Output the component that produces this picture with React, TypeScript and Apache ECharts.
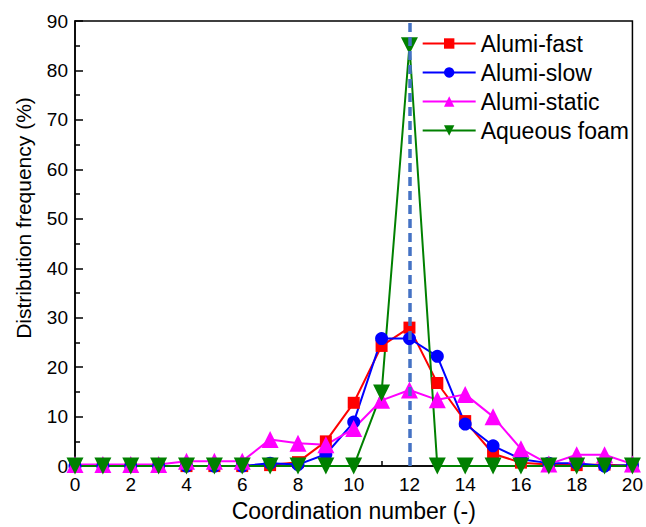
import React, { useEffect, useRef } from "react";
import * as echarts from "echarts";

const categories = [0, 1, 2, 3, 4, 5, 6, 7, 8, 9, 10, 11, 12, 13, 14, 15, 16, 17, 18, 19, 20];
const alumiFast = [0, 0, 0, 0, 0, 0, 0, 0.2, 0.8, 5.0, 12.8, 24.3, 28.0, 16.8, 9.1, 2.5, 0.7, 0.3, 0.2, 0.3, 0];
const alumiSlow = [0, 0, 0, 0, 0, 0, 0, 0.6, 0.3, 2.4, 8.9, 25.8, 25.8, 22.2, 8.5, 4.1, 1.4, 0.6, 0.6, 0, 0.2];
const alumiStatic = [0.3, 0.3, 0.3, 0.3, 1.0, 1.0, 1.0, 5.4, 4.6, 4.3, 7.6, 13.3, 15.4, 13.4, 14.5, 10.0, 3.5, 0.4, 2.3, 2.3, 0.4];
const aqueousFoam = [0, 0, 0, 0, 0, 0, 0, 0, 0, 0, 0, 14.8, 85.0, 0, 0, 0, 0, 0, 0, 0, 0];
const markX = 12;
const yTitle = "Distribution frequency (%)";
const xTitle = "Coordination number (-)";

const FONT = "Liberation Sans, Arial, sans-serif";

export default function App() {
  const ref = useRef<HTMLDivElement>(null);
  useEffect(() => {
    const chart = echarts.init(ref.current!, null, { renderer: "svg" });
    const mk = (name: string, data: number[], color: string, symbol: string, size: number) => ({
      name,
      type: "line",
      data: categories.map((c, i) => [c, data[i]]),
      symbol,
      symbolSize: size,
      lineStyle: { color, width: 2 },
      itemStyle: { color },
      z: 3,
    });
    chart.setOption({
      animation: false,
      textStyle: { fontFamily: FONT },
      grid: { left: 75, right: 11, top: 21, bottom: 56, show: true, borderColor: "#000", borderWidth: 1.5 },
      legend: {
        orient: "vertical",
        right: 12,
        top: 27,
        itemWidth: 53,
        itemHeight: 13,
        itemGap: 6,
        textStyle: { fontSize: 23, lineHeight: 23, color: "#000", fontFamily: FONT },
        data: ["Alumi-fast", "Alumi-slow", "Alumi-static", "Aqueous foam"],
      },
      graphic: [
        {
          type: "text",
          x: 23,
          y: 218,
          rotation: Math.PI / 2,
          style: {
            text: yTitle,
            fill: "#000",
            font: "21px Liberation Sans, Arial, sans-serif",
            align: "center",
            verticalAlign: "middle",
          },
        },
      ],
      xAxis: {
        type: "value",
        min: 0,
        max: 20,
        interval: 2,
        name: xTitle,
        nameLocation: "middle",
        nameGap: 31,
        nameTextStyle: { fontSize: 23, color: "#000", fontFamily: FONT },
        axisLine: { lineStyle: { color: "#000", width: 1.5 } },
        axisTick: { inside: true, length: 8, lineStyle: { color: "#000", width: 1.5 } },
        minorTick: { show: true, splitNumber: 2, length: 5, lineStyle: { color: "#000", width: 1.5 } },
        axisLabel: { fontSize: 19, color: "#000", margin: 9, fontFamily: FONT },
        splitLine: { show: false },
      },
      yAxis: {
        type: "value",
        min: 0,
        max: 90,
        interval: 10,
        axisLine: { lineStyle: { color: "#000", width: 1.5 } },
        axisTick: { inside: true, length: 8, lineStyle: { color: "#000", width: 1.5 } },
        minorTick: { show: true, splitNumber: 2, length: 5, lineStyle: { color: "#000", width: 1.5 } },
        axisLabel: { fontSize: 19, color: "#000", margin: 7, fontFamily: FONT },
        splitLine: { show: false },
      },
      series: [
        mk("Alumi-fast", alumiFast, "#ff0000", "rect", 12),
        mk("Alumi-slow", alumiSlow, "#0000ff", "circle", 13),
        mk("Alumi-static", alumiStatic, "#ff00ff", "triangle", 17),
        {
          ...mk("Aqueous foam", aqueousFoam, "#008000", "triangle", 17),
          symbolRotate: 180,
          markLine: {
            silent: true,
            symbol: ["none", "none"],
            label: { show: false },
            lineStyle: { color: "#4472c4", type: [9, 5], width: 3.5 },
            data: [{ xAxis: markX }],
            z: 10,
          },
        },
      ],
    });
    return () => chart.dispose();
  }, []);
  return <div ref={ref} style={{ position: "absolute", left: 0, top: 0, width: 646, height: 527 }} />;
}
